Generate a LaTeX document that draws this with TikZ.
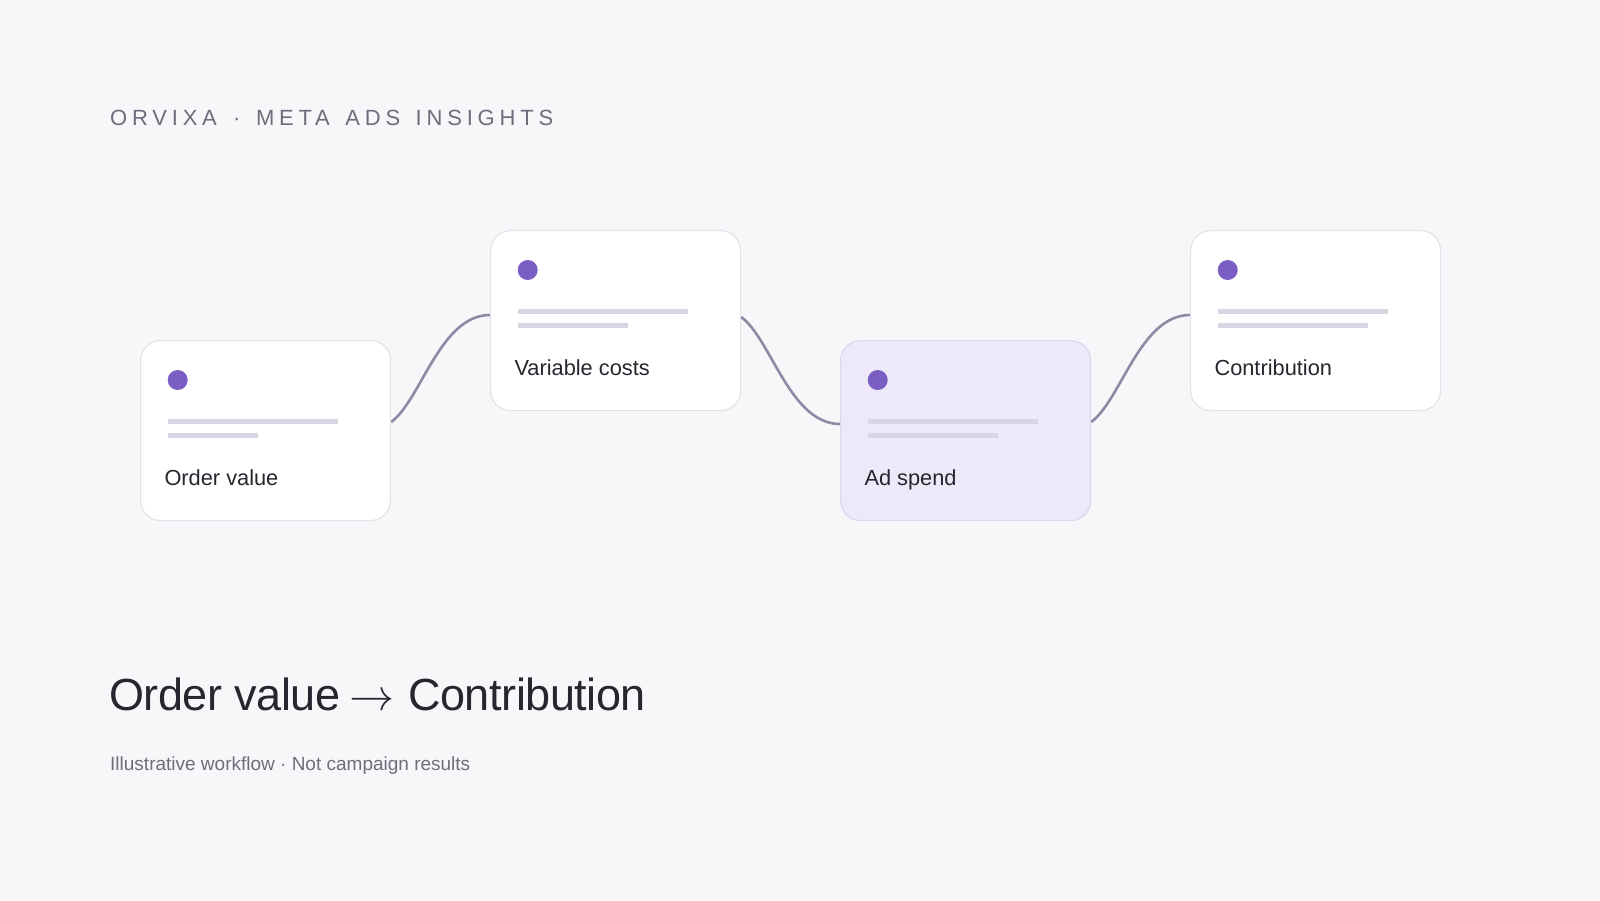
\documentclass[tikz,border=0pt]{standalone}
\usepackage{fontspec}
\setmainfont{Liberation Sans}
\newfontfamily\titlefont[LetterSpace=21.8]{Liberation Sans}
\newfontfamily\headfont[LetterSpace=-1]{Liberation Sans}
\newfontfamily\arrowfont{latinmodern-math.otf}
\newcommand{\tgap}{\hspace{15.5pt}}
\usetikzlibrary{calc}
\definecolor{bgc}{HTML}{F7F7FA}
\definecolor{cardborder}{HTML}{E3E3EA}
\definecolor{hlfill}{HTML}{EDE9F8}
\definecolor{hlborder}{HTML}{DDD7EE}
\definecolor{dotc}{HTML}{7B5EC4}
\definecolor{skelc}{HTML}{D8D6E2}
\definecolor{connc}{HTML}{8F8AA3}
\definecolor{labelc}{HTML}{26262E}
\definecolor{greyc}{HTML}{6E6D7B}
\tikzset{
  card/.style={draw=cardborder, fill=white, line width=1.2pt, rounded corners=20pt,
    minimum width=250pt, minimum height=180pt, inner sep=0pt, anchor=north west},
  hlcard/.style={card, fill=hlfill, draw=hlborder},
  dotn/.style={circle, fill=dotc, minimum size=20pt, inner sep=0pt},
  skel/.style={draw=skelc, line width=5pt},
  lbl/.style={anchor=base west, inner sep=0pt, text=labelc, font=\fontsize{21.8}{26}\selectfont},
  conn/.style={draw=connc, line width=2.6pt}
}
\begin{document}
\begin{tikzpicture}[x=1pt, y=-1pt]
\fill[bgc] (0,0) rectangle (1600,900);
\useasboundingbox (0,0) rectangle (1600,900);

\node[anchor=base west, inner sep=0pt, text=greyc, font=\titlefont\fontsize{22}{26}\selectfont] (title) at (110,125) {ORVIXA\hspace{16.2pt}·\hspace{15.6pt}META\tgap ADS\tgap INSIGHTS};

\node[card] (c1) at (140,340) {};
\node[card] (c2) at (490,230) {};
\node[hlcard] (c3) at (840,340) {};
\node[card] (c4) at (1190,230) {};

\foreach \c/\w/\t in {c1/90/Order value, c2/110/Variable costs, c3/130/Ad spend, c4/150/Contribution}{
  \node[dotn] (\c d) at ($(\c.north west)+(37.7,40)$) {};
  \draw[skel] ($(\c.north west)+(28,81.7)$) -- ++(170,0);
  \draw[skel] ($(\c.north west)+(28,95.7)$) -- ++(\w,0);
  \node[lbl] (\c l) at ($(\c.north west)+(24.3,145.3)$) {\t};
}

\coordinate (c1r) at ($(c1.north east)+(0,82)$);
\coordinate (c2l) at ($(c2.north west)+(0,85)$);
\coordinate (c2r) at ($(c2.north east)+(0,87)$);
\coordinate (c3l) at ($(c3.north west)+(0,84)$);
\coordinate (c3r) at ($(c3.north east)+(0,82)$);
\coordinate (c4l) at ($(c4.north west)+(0,85)$);

\draw[conn] (c1r) .. controls +(30,-22) and +(-50,0) .. (c2l);
\draw[conn] (c2r) .. controls +(30,22) and +(-50,0) .. (c3l);
\draw[conn] (c3r) .. controls +(30,-22) and +(-50,0) .. (c4l);

\node[anchor=base west, inner sep=0pt, text=labelc, font=\headfont\fontsize{45}{54}\selectfont] (head) at (109,710) {Order value\hspace{9pt}{\arrowfont →}\hspace{14pt}Contribution};
\node[anchor=base west, inner sep=0pt, text=greyc, font=\fontsize{19}{23}\selectfont] (sub) at (110,770) {Illustrative workflow · Not campaign results};
\end{tikzpicture}
\end{document}
